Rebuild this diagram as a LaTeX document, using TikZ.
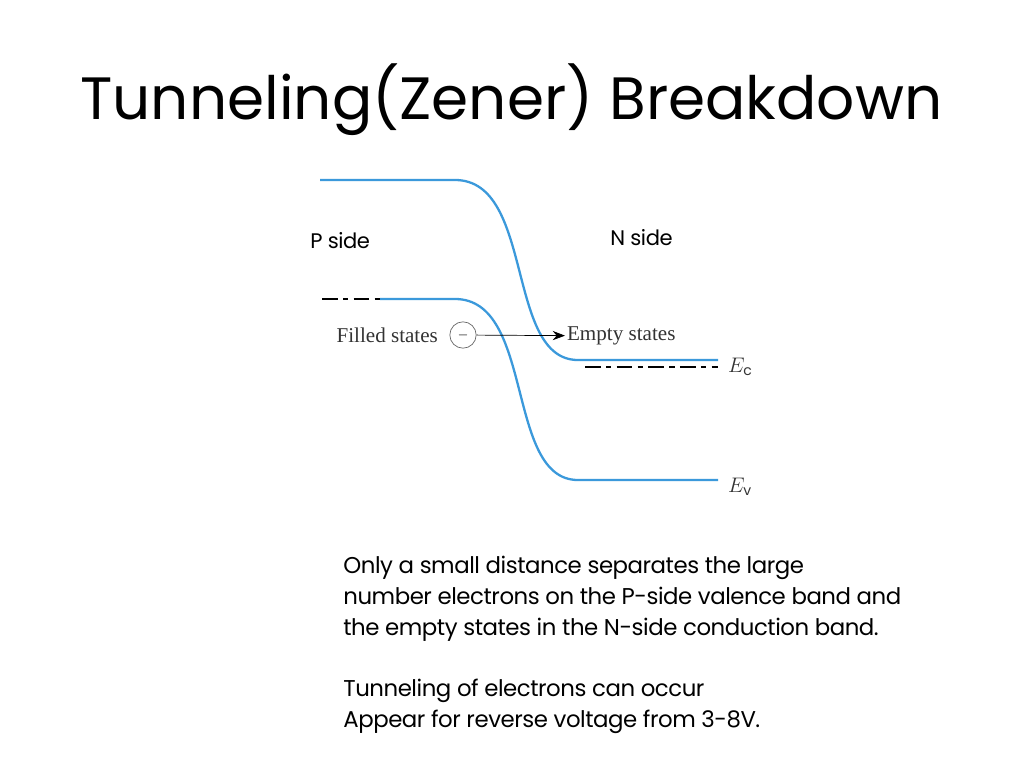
\documentclass[tikz,border=0pt]{standalone}
\usepackage{fontspec}
\setmainfont{Poppins}
\newfontfamily\figfont{Liberation Serif}
\usetikzlibrary{arrows.meta, positioning}
\tikzset{
    band/.style={draw=cyan!70!blue!80, line width=1.3pt},
    level/.style={draw=black, line width=1pt, dash pattern=on 9pt off 3pt on 3pt off 3pt},
    figlabel/.style={font=\figfont\fontsize{12}{14}\selectfont, text=black!80, inner sep=1pt},
    sidelabel/.style={font=\fontsize{12}{14}\selectfont\addfontfeature{LetterSpace=-2}, anchor=west, inner sep=0pt},
    arrow/.style={-{Stealth[length=7pt]}, thin}
}
\begin{document}
\begin{tikzpicture}[x=0.02cm, y=-0.02cm]

    \useasboundingbox[fill=white] (0,0) rectangle (1024,768);

    % Title
    \node[font=\fontsize{34}{40}\selectfont, anchor=west, inner sep=0pt] (title) at (80,100) {Tunneling(Zener) Breakdown};

    % Bands
    \draw[band] (320,180) -- (455,180) .. controls (535,180) and (505,360) .. (578,360) -- (718,360);
    \draw[band] (380,299) -- (455,299) .. controls (535,299) and (505,480) .. (578,480) -- (718,480);
    \draw[level] (322,299) -- (380,299);
    \draw[level] (585,367) -- (718,367);

    % Side labels
    \node[sidelabel] (pside) at (310,241) {P side};
    \node[sidelabel] (nside) at (610,238) {N side};

    % Tunneling
    \node[figlabel, anchor=east] (filled) at (440,335) {Filled states};
    \node[circle, draw=black!60, thin, minimum size=15pt, inner sep=0pt, font=\scriptsize] (elec) at (463,335) {$-$};
    \node[figlabel, anchor=west] (empty) at (565,336) {Empty states};
    \draw[arrow] (elec) -- (empty);

    % Band edges
    \node[figlabel, anchor=west] (ec) at (726,367) {$E_{\mathrm{c}}$};
    \node[figlabel, anchor=west] (ev) at (726,487) {$E_{\mathrm{v}}$};

    % Text
    \node[font=\fontsize{13}{17.5}\selectfont\addfontfeature{LetterSpace=-2}, anchor=north west, align=left, inner sep=0pt] (body) at (343,556)
        {Only a small distance separates the large\\
         number electrons on the P-side valence band and\\
         the empty states in the N-side conduction band.\\[17.5pt]
         Tunneling of electrons can occur\\
         Appear for reverse voltage from 3-8V.};

\end{tikzpicture}
\end{document}
